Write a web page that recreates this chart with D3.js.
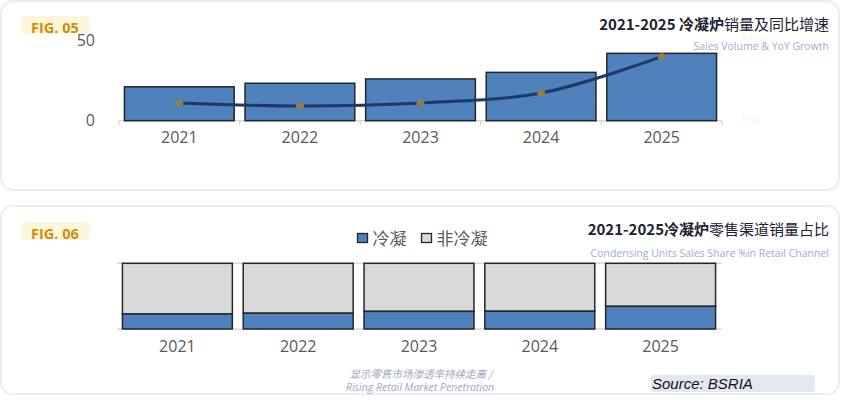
<!DOCTYPE html>
<html><head><meta charset="utf-8">
<script src="https://cdn.jsdelivr.net/npm/d3@7"></script>
<style>
html,body{margin:0;padding:0;background:#fff;}
svg{display:block;}
</style></head>
<body>
<svg id="c" width="842" height="408"></svg>
<script>
// ---- data ----
const years = ["2021", "2022", "2023", "2024", "2025"];
const salesVolume = [21.2, 23.4, 26.1, 30.2, 42.1];
const yoyGrowth = [11.0, 9.2, 11.1, 17.3, 40.0];
const condensingShare = [22.8, 24.0, 26.8, 27.0, 34.5];
const nonCondensingShare = [77.2, 76.0, 73.2, 73.0, 65.5];
const leftTicks = [0, 50];
const rightTicks = [0, 50];
const legendLabels = ["冷凝", "非冷凝"];

const svg = d3.select("#c");
const CJK = "'Noto Sans CJK SC','Noto Sans',sans-serif";
const SANS = "'Open Sans','Noto Sans CJK SC',sans-serif";
const blue = "#4f81bd", grey = "#d9d9d9", edge = "#262626", axisC = "#595959";

// cards
[[1, 1, 838, 189], [1, 206, 838, 188]].forEach(([x, y, w, h]) => {
  svg.append("rect").attr("x", x).attr("y", y).attr("width", w).attr("height", h)
    .attr("rx", 12).attr("fill", "#fff").attr("stroke", "#e9eef4").attr("stroke-width", 2);
});

// badges
function badge(y, label) {
  svg.append("rect").attr("x", 21).attr("y", y).attr("width", 69).attr("height", 18)
    .attr("rx", 5).attr("fill", "#fdf6da");
  svg.append("text").attr("x", 31).attr("y", y + 16.5).text(label)
    .attr("font-family", SANS).attr("font-weight", 700).attr("font-size", 14.5)
    .attr("fill", "#d08e0c");
}
badge(16, "FIG. 05");
badge(222, "FIG. 06");

// ===== chart 1 =====
const x1 = d3.scaleBand().domain(years).range([119, 722]).paddingInner(0.09).paddingOuter(0.045);
const y1 = d3.scaleLinear().domain([0, 50]).range([120.7, 40.7]);
const yR = d3.scaleLinear().domain([0, 50]).range([120.7, 40.7]);

// faint right axis labels (almost invisible in the reference)
svg.selectAll(".rt").data(rightTicks).join("text")
  .attr("x", 742).attr("y", d => yR(d) + 4).text(d => d + "%")
  .attr("font-family", SANS).attr("font-size", 13).attr("fill", "#f6f6f6");

// titles
function title(y, bold, rest, sub, gap) {
  const t = svg.append("text").attr("x", 829).attr("y", y).attr("text-anchor", "end")
    .attr("font-family", CJK).attr("font-size", 15).attr("fill", "#1b2130");
  t.append("tspan").attr("font-weight", 700).text(bold);
  t.append("tspan").attr("font-weight", 400).text(rest);
  svg.append("text").attr("x", 829).attr("y", y + gap).attr("text-anchor", "end")
    .attr("font-family", SANS).attr("font-size", 10.5).attr("fill", "#a3abd0").text(sub);
}
title(30, "2021-2025 冷凝炉", "销量及同比增速", "Sales Volume & YoY Growth", 20);

svg.selectAll(".lt").data(leftTicks).join("text")
  .attr("x", 95).attr("y", d => y1(d) + 5).attr("text-anchor", "end").text(d => d)
  .attr("font-family", SANS).attr("font-size", 16).attr("fill", axisC);

function baseAxis(x, yPos) {
  svg.append("line").attr("x1", x.range()[0]).attr("x2", x.range()[1])
    .attr("y1", yPos).attr("y2", yPos).attr("stroke", grey).attr("stroke-width", 1.5);
  const half = x.step() * x.paddingInner() / 2;
  const bounds = [x.range()[0]].concat(years.map(d => x(d) + x.bandwidth() + half));
  bounds[bounds.length - 1] = x.range()[1];
  svg.selectAll(null).data(bounds).join("line")
    .attr("x1", d => d).attr("x2", d => d).attr("y1", yPos).attr("y2", yPos + 4)
    .attr("stroke", grey).attr("stroke-width", 1.5);
}
baseAxis(x1, 120.7);

svg.selectAll(".b1").data(years).join("rect")
  .attr("x", d => x1(d)).attr("width", x1.bandwidth())
  .attr("y", (d, i) => y1(salesVolume[i])).attr("height", (d, i) => y1(0) - y1(salesVolume[i]))
  .attr("fill", blue).attr("stroke", edge).attr("stroke-width", 1.5);

const line = d3.line().x((d, i) => x1(years[i]) + x1.bandwidth() / 2).y(d => yR(d))
  .curve(d3.curveCatmullRom.alpha(0.5));
svg.append("path").datum(yoyGrowth).attr("d", line).attr("fill", "none")
  .attr("stroke", "#1c3a63").attr("stroke-width", 3);
svg.selectAll(".dot").data(yoyGrowth).join("ellipse")
  .attr("cx", (d, i) => x1(years[i]) + x1.bandwidth() / 2).attr("cy", d => yR(d))
  .attr("rx", 4).attr("ry", 3.5).attr("fill", "#8c7f4e");

svg.selectAll(".xl1").data(years).join("text")
  .attr("x", d => x1(d) + x1.bandwidth() / 2).attr("y", 143).attr("text-anchor", "middle")
  .text(d => d).attr("font-family", SANS).attr("font-size", 16).attr("fill", axisC);

// ===== chart 2 =====
title(235, "2021-2025冷凝炉", "零售渠道销量占比", "Condensing Units Sales Share %in Retail Channel", 22);

const x2 = d3.scaleBand().domain(years).range([117, 721]).paddingInner(0.09).paddingOuter(0.045);
const y2 = d3.scaleLinear().domain([0, 100]).range([329, 263.3]);

[0, 100].forEach(v => {
  svg.append("line").attr("x1", 117).attr("x2", 722).attr("y1", y2(v)).attr("y2", y2(v))
    .attr("stroke", grey).attr("stroke-width", 1.5);
});

const stack = years.map((d, i) => ({ year: d, c: condensingShare[i], n: nonCondensingShare[i] }));
svg.selectAll(".bn").data(stack).join("rect")
  .attr("x", d => x2(d.year)).attr("width", x2.bandwidth())
  .attr("y", d => y2(d.c + d.n)).attr("height", d => y2(d.c) - y2(d.c + d.n))
  .attr("fill", grey).attr("stroke", edge).attr("stroke-width", 1.5);
svg.selectAll(".bc").data(stack).join("rect")
  .attr("x", d => x2(d.year)).attr("width", x2.bandwidth())
  .attr("y", d => y2(d.c)).attr("height", d => y2(0) - y2(d.c))
  .attr("fill", blue).attr("stroke", edge).attr("stroke-width", 1.5);

svg.selectAll(".xl2").data(years).join("text")
  .attr("x", d => x2(d) + x2.bandwidth() / 2).attr("y", 352).attr("text-anchor", "middle")
  .text(d => d).attr("font-family", SANS).attr("font-size", 16).attr("fill", axisC);

// legend
const legX = [357.5, 421.5];
legendLabels.forEach((lab, i) => {
  svg.append("rect").attr("x", legX[i]).attr("y", 233.5).attr("width", 10).attr("height", 9)
    .attr("fill", i === 0 ? blue : grey).attr("stroke", edge).attr("stroke-width", 1.3);
  svg.append("text").attr("x", legX[i] + 15).attr("y", 244.5).text(lab)
    .attr("font-family", CJK).attr("font-size", 17).attr("fill", axisC);
});

// footnote
svg.append("text").attr("x", 421).attr("y", 378).attr("text-anchor", "middle")
  .attr("font-family", CJK).attr("font-style", "italic").attr("font-size", 10.5)
  .attr("fill", "#a0a8be").text("显示零售市场渗透率持续走高 /");
svg.append("text").attr("x", 420).attr("y", 391).attr("text-anchor", "middle")
  .attr("font-family", SANS).attr("font-style", "italic").attr("font-size", 10.5)
  .attr("fill", "#a0a8be").text("Rising Retail Market Penetration");

// source
svg.append("rect").attr("x", 651).attr("y", 375).attr("width", 164).attr("height", 17)
  .attr("rx", 3).attr("fill", "#e2e7f1");
svg.append("text").attr("x", 652).attr("y", 389.3)
  .attr("font-family", "'Liberation Sans',Arial,sans-serif").attr("font-style", "italic")
  .attr("font-size", 15).attr("fill", "#111").text("Source: BSRIA");
</script>
</body></html>
